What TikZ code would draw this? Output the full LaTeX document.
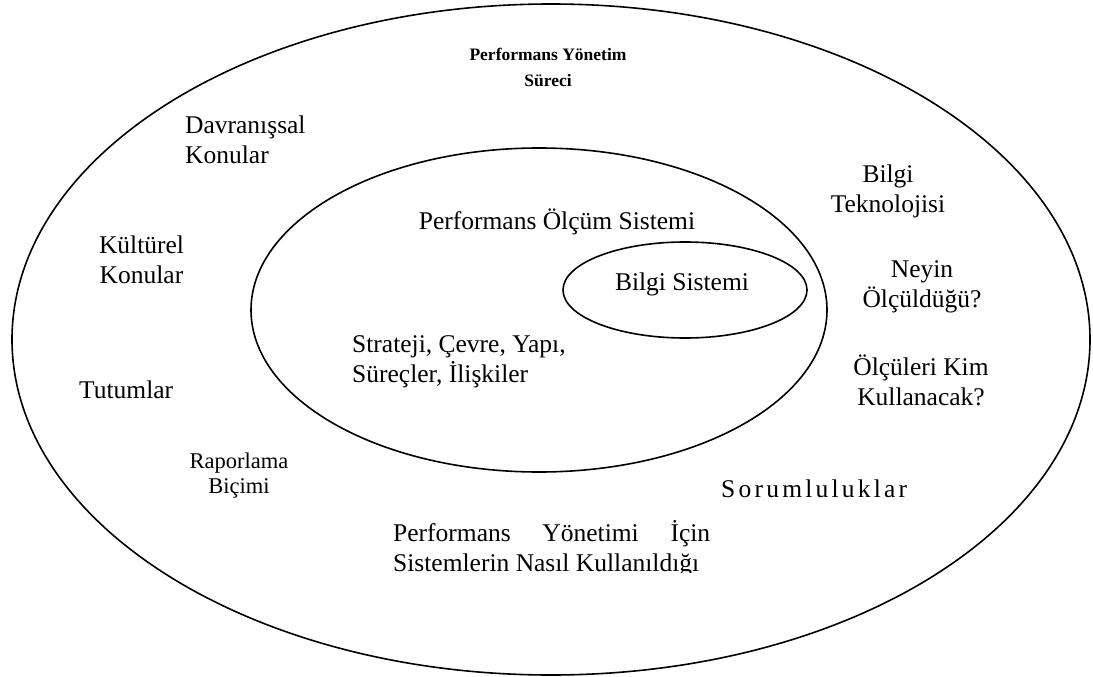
\documentclass[tikz,border=0pt]{standalone}
\usepackage{fontspec}
\setmainfont{Liberation Serif}
% stacked lines whose base is the baseline of the first line
\newcommand\centrelines[1]{\vtop{\halign{\hfil##\hfil\cr#1\crcr}}}
\newcommand\leftlines[1]{\vtop{\halign{##\hfil\cr#1\crcr}}}
\begin{document}
\begin{tikzpicture}[x=1pt,y=1pt,
  ring/.style={draw=black, line width=1.6pt},
  lbl/.style={inner sep=0pt, font=\fontsize{25.5}{30}\selectfont},
  small/.style={inner sep=0pt, font=\fontsize{22.5}{25}\selectfont},
  title/.style={inner sep=0pt, font=\fontsize{17.5}{26}\selectfont\bfseries}]
\useasboundingbox (0,0) rectangle (1093,-677);

% nested rings
\draw[ring] (551,-339.5) ellipse [x radius=539, y radius=335.5];
\draw[ring] (539,-310) ellipse [x radius=288, y radius=162];
\draw[ring] (685,-290) ellipse [x radius=122, y radius=48];

% outer ring: management process
\node[title, anchor=base] (surec) at (548,-61) {\centrelines{Performans Yönetim\cr Süreci}};
\node[lbl, anchor=base west] (davranis) at (185,-133) {\leftlines{Davranışsal\cr Konular}};
\node[lbl, anchor=base] (kultur) at (141.5,-253) {\centrelines{Kültürel\cr Konular}};
\node[lbl, anchor=base west] (tutum) at (79,-398) {Tutumlar};
\node[small, anchor=base] (rapor) at (239,-468) {\centrelines{Raporlama\cr Biçimi}};
\node[lbl, anchor=base west] (sorum) at (721,-497)
  {\hbox to 186pt{S\hfill o\hfill r\hfill u\hfill m\hfill l\hfill u\hfill l\hfill u\hfill k\hfill l\hfill a\hfill r}};
\node[lbl, anchor=base] (bt) at (888,-182) {\centrelines{Bilgi\cr Teknolojisi}};
\node[lbl, anchor=base] (neyin) at (922,-277) {\centrelines{Neyin\cr Ölçüldüğü?}};
\node[lbl, anchor=base] (kim) at (921,-375) {\centrelines{Ölçüleri Kim\cr Kullanacak?}};
\begin{scope}
  \clip (0,0) rectangle (1093,-572);
  \node[lbl, anchor=base west] (kullanim) at (393,-541)
    {\vtop{\hbox to 317pt{Performans\hfill Yönetimi\hfill İçin}\hbox{Sistemlerin Nasıl Kullanıldığı}}};
\end{scope}

% middle ring: measurement system
\node[lbl, anchor=base] (olcum) at (557,-229) {Performans Ölçüm Sistemi};
\node[lbl, anchor=base west] (strateji) at (352,-352) {\leftlines{Strateji, Çevre, Yapı,\cr Süreçler, İlişkiler}};

% inner ring: information system
\node[lbl, anchor=base] (bilgi) at (682,-290) {Bilgi Sistemi};
\end{tikzpicture}
\end{document}
